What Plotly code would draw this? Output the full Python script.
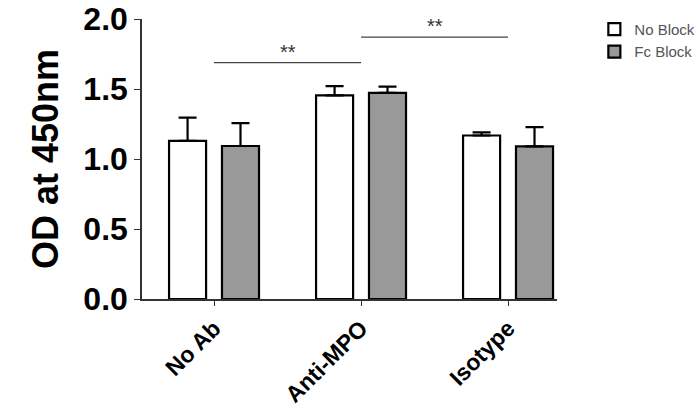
import plotly.graph_objects as go

categories = ["No Ab", "Anti-MPO", "Isotype"]
no_block = [1.13, 1.455, 1.168]
no_block_err = [0.165, 0.066, 0.022]
fc_block = [1.093, 1.472, 1.09]
fc_block_err = [0.163, 0.045, 0.137]
series_names = ["No Block", "Fc Block"]
sig_pairs = [(0, 1, 1.689), (1, 2, 1.871)]
sig_labels = ["**", "**"]

FONT = "Arial, Liberation Sans, sans-serif"

fig = go.Figure()
fig.add_trace(go.Bar(
    x=categories, y=no_block, name=series_names[0],
    marker=dict(color="white", line=dict(color="black", width=2.2)),
    error_y=dict(type="data", array=no_block_err, arrayminus=[0]*3, symmetric=False,
                 color="black", thickness=2.2, width=9),
))
fig.add_trace(go.Bar(
    x=categories, y=fc_block, name=series_names[1],
    marker=dict(color="#999999", line=dict(color="black", width=2.2)),
    error_y=dict(type="data", array=fc_block_err, arrayminus=[0]*3, symmetric=False,
                 color="black", thickness=2.2, width=9),
))

for (a, b, yv), lab in zip(sig_pairs, sig_labels):
    fig.add_shape(type="line", xref="x", yref="y", x0=a, x1=b, y0=yv, y1=yv,
                  line=dict(color="#444444", width=1.2))
    fig.add_annotation(x=(a + b) / 2, y=yv, xref="x", yref="y", text=lab,
                       showarrow=False, yanchor="bottom", yshift=-2,
                       font=dict(family=FONT, size=20, color="#333333"))

fig.update_layout(
    width=700, height=413,
    margin=dict(l=142, r=143, t=19, b=114, autoexpand=False),
    paper_bgcolor="white", plot_bgcolor="white",
    barmode="group", bargap=0.28, bargroupgap=0.3,
    showlegend=True,
    legend=dict(x=1.09, y=1.022, xanchor="left", yanchor="top",
                font=dict(family=FONT, size=15, color="#555555"),
                tracegroupgap=4, itemwidth=30, bgcolor="rgba(0,0,0,0)"),
    xaxis=dict(
        range=[-0.49, 2.333], showline=True, linecolor="#333333", linewidth=1.5,
        ticks="outside", ticklen=5, tickcolor="#333333", tickwidth=1.2,
        tickangle=-45, showgrid=False, zeroline=False, automargin=False,
        ticklabeloverflow="allow",
        tickfont=dict(family=FONT, size=23, color="black", weight="bold"),
    ),
    yaxis=dict(
        range=[0, 2], dtick=0.5, tickformat=".1f", showline=True,
        linecolor="#333333", linewidth=1.5, ticks="outside", ticklen=6,
        tickcolor="#333333", tickwidth=1.2, showgrid=False, zeroline=False,
        automargin=False, ticklabeloverflow="allow",
        tickfont=dict(family=FONT, size=32, color="black", weight="bold"),
        title=dict(text="OD at 450nm", standoff=14,
                   font=dict(family=FONT, size=36, color="black", weight="bold")),
    ),
)

fig.write_html("out.html", config={"displayModeBar": False},
               post_script="document.body.style.margin='0';")
